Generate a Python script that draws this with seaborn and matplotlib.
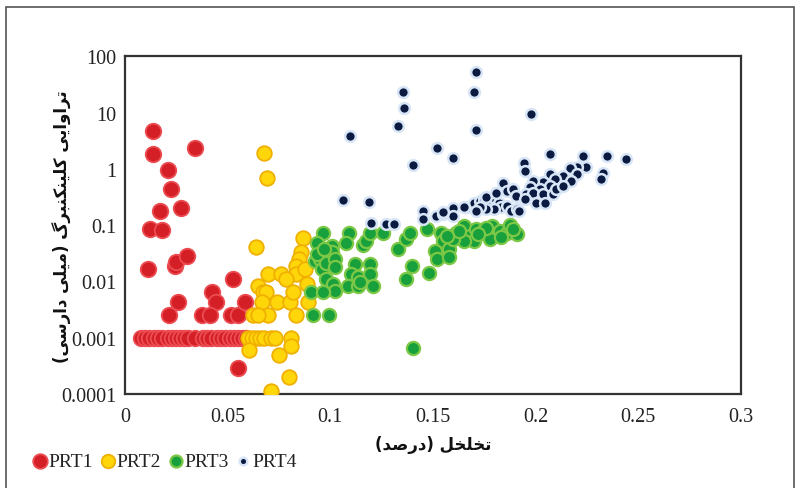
import numpy as np
import pandas as pd
import matplotlib
matplotlib.use("Agg")
import matplotlib.pyplot as plt
import seaborn as sns
from matplotlib.patches import Rectangle
from matplotlib.ticker import MultipleLocator, LogLocator, NullFormatter

# ---------------- data ----------------
prt1_x = [0.0135, 0.0138, 0.034, 0.021, 0.0224, 0.017, 0.0276, 0.0122, 0.0182, 0.0114,
          0.0243, 0.025, 0.0305, 0.0528, 0.0427, 0.0446, 0.026, 0.0214, 0.0378, 0.0414,
          0.0516, 0.0552, 0.0584, 0.0552,
          0.008, 0.010, 0.012, 0.014, 0.016, 0.018, 0.021, 0.023, 0.025, 0.027, 0.029,
          0.031, 0.034, 0.038, 0.040, 0.042, 0.045, 0.047, 0.049, 0.051, 0.053, 0.055,
          0.057, 0.059]
prt1_y = [4.7, 1.8, 2.3, 0.95, 0.43, 0.18, 0.2, 0.087, 0.083, 0.0165,
          0.019, 0.022, 0.028, 0.011, 0.0064, 0.0043, 0.0043, 0.0025, 0.0025, 0.0025,
          0.0025, 0.0025, 0.0043, 0.00029,
          0.001, 0.001, 0.001, 0.001, 0.001, 0.001, 0.001, 0.001, 0.001, 0.001, 0.001,
          0.001, 0.001, 0.001, 0.001, 0.001, 0.001, 0.001, 0.001, 0.001, 0.001, 0.001,
          0.001, 0.001]

prt2_x = [0.0679, 0.0693, 0.0641, 0.0868, 0.0857, 0.0847, 0.0836, 0.0836, 0.0877, 0.0885,
          0.0698, 0.0763, 0.0787, 0.065, 0.0674, 0.069, 0.0666, 0.0739, 0.0804, 0.0893,
          0.082, 0.0836, 0.0698, 0.0625, 0.065, 0.060, 0.062, 0.064, 0.066, 0.068,
          0.071, 0.073, 0.081, 0.081, 0.0604, 0.075, 0.080, 0.0714]
prt2_y = [1.95, 0.70, 0.041, 0.059, 0.033, 0.025, 0.019, 0.0135, 0.0165, 0.0089,
          0.0135, 0.0135, 0.011, 0.0084, 0.0064, 0.0064, 0.0043, 0.0043, 0.0043, 0.0043,
          0.0064, 0.0025, 0.0025, 0.0025, 0.0025, 0.001, 0.001, 0.001, 0.001, 0.001,
          0.001, 0.001, 0.001, 0.00072, 0.00061, 0.00049, 0.0002, 0.000115]

prt3_x = [0.0966, 0.109, 0.1076, 0.0934, 0.1007, 0.1007, 0.0925, 0.095, 0.0958, 0.0982,
          0.1023, 0.1023, 0.0982, 0.1015, 0.1023, 0.0909, 0.0966, 0.0917, 0.0995,
          0.112, 0.1193, 0.1104, 0.1136, 0.1088, 0.1136, 0.1193, 0.121, 0.1144,
          0.1158, 0.1177, 0.1193, 0.1258,
          0.133, 0.137, 0.139, 0.137, 0.14, 0.1404,
          0.147, 0.154, 0.155, 0.151, 0.152, 0.158, 0.158, 0.148,
          0.1615, 0.165, 0.168, 0.170, 0.171, 0.1745, 0.178, 0.1786, 0.1826, 0.186,
          0.1875, 0.191, 0.165, 0.16, 0.163, 0.176, 0.183, 0.189, 0.157, 0.172,
          0.0935, 0.097]
prt3_y = [0.072, 0.072, 0.048, 0.048, 0.042, 0.033, 0.023, 0.025, 0.0165, 0.021,
          0.025, 0.018, 0.011, 0.0089, 0.0068, 0.0065, 0.0065, 0.0025, 0.0025,
          0.0204, 0.0204, 0.0135, 0.012, 0.0084, 0.0084, 0.0135, 0.0084, 0.0097,
          0.044, 0.052, 0.073, 0.073,
          0.037, 0.056, 0.073, 0.011, 0.019, 0.00067,
          0.085, 0.073, 0.053, 0.035, 0.025, 0.037, 0.027, 0.0142,
          0.073, 0.097, 0.065, 0.053, 0.085, 0.079, 0.056, 0.097, 0.079, 0.073,
          0.1, 0.069, 0.053, 0.056, 0.08, 0.09, 0.062, 0.085, 0.065, 0.07,
          0.031, 0.038]

prt4_x = [0.1356, 0.136, 0.133, 0.1096, 0.152, 0.160, 0.1406, 0.1063, 0.119, 0.1197,
          0.1274, 0.131, 0.1453, 0.1453, 0.1518, 0.155, 0.16, 0.16, 0.166, 0.171,
          0.170, 0.171, 0.1976,
          0.207, 0.2346, 0.2443, 0.2232, 0.2248, 0.233, 0.232, 0.1945, 0.195, 0.22,
          0.2167, 0.2135, 0.22, 0.2175, 0.207, 0.2094, 0.2037, 0.1989, 0.1972, 0.207, 0.202,
          0.184, 0.181, 0.186, 0.189, 0.1907, 0.1955, 0.1989, 0.2037, 0.2086, 0.21,
          0.2135, 0.195, 0.2005, 0.2045,
          0.167, 0.17, 0.173, 0.175, 0.178, 0.179, 0.182, 0.183, 0.186, 0.188,
          0.191, 0.192, 0.18, 0.176, 0.173, 0.171, 0.155, 0.165, 0.176, 0.181]
prt4_y = [23, 12, 5.8, 3.8, 2.3, 1.57, 1.15, 0.28, 0.26, 0.11,
          0.105, 0.105, 0.175, 0.13, 0.144, 0.16, 0.2, 0.144, 0.21, 53,
          23, 4.9, 9.6,
          1.8, 1.7, 1.5, 1.7, 1.1, 0.86, 0.67, 1.25, 0.92, 1.1,
          1.03, 0.76, 0.8, 0.6, 0.8, 0.66, 0.58, 0.6, 0.47, 0.5, 0.44,
          0.57, 0.38, 0.41, 0.44, 0.33, 0.355, 0.38, 0.355, 0.355, 0.44,
          0.5, 0.29, 0.25, 0.25,
          0.206, 0.25, 0.27, 0.29, 0.235, 0.31, 0.25, 0.206, 0.22, 0.18,
          0.19, 0.18, 0.19, 0.19, 0.206, 0.18, 0.17, 0.21, 0.31, 0.37]

series_names = ["PRT1", "PRT2", "PRT3", "PRT4"]
x_ticks = [0, 0.05, 0.1, 0.15, 0.2, 0.25, 0.3]
x_tick_labels = ["0", "0.05", "0.1", "0.15", "0.2", "0.25", "0.3"]
y_ticks = [0.0001, 0.001, 0.01, 0.1, 1, 10, 100]
y_tick_labels = ["0.0001", "0.001", "0.01", "0.1", "1", "10", "100"]
x_label = "تخلخل (درصد)"
y_label = "تراوایی کلینکنبرگ (میلی دارسی)"

# ------------- simple Persian shaping (presentation forms, visual order) -------------
FORMS = {
    '\u0627': ('\uFE8D', '\uFE8E', None, None),
    '\u0628': ('\uFE8F', '\uFE90', '\uFE91', '\uFE92'),
    '\u062A': ('\uFE95', '\uFE96', '\uFE97', '\uFE98'),
    '\u062E': ('\uFEA5', '\uFEA6', '\uFEA7', '\uFEA8'),
    '\u062F': ('\uFEA9', '\uFEAA', None, None),
    '\u0631': ('\uFEAD', '\uFEAE', None, None),
    '\u0633': ('\uFEB1', '\uFEB2', '\uFEB3', '\uFEB4'),
    '\u0635': ('\uFEB9', '\uFEBA', '\uFEBB', '\uFEBC'),
    '\u0644': ('\uFEDD', '\uFEDE', '\uFEDF', '\uFEE0'),
    '\u0645': ('\uFEE1', '\uFEE2', '\uFEE3', '\uFEE4'),
    '\u0646': ('\uFEE5', '\uFEE6', '\uFEE7', '\uFEE8'),
    '\u0648': ('\uFEED', '\uFEEE', None, None),
    '\u06CC': ('\uFBFC', '\uFBFD', '\uFBFE', '\uFBFF'),
    '\u06A9': ('\uFB8E', '\uFB8F', '\uFB90', '\uFB91'),
    '\u06AF': ('\uFB92', '\uFB93', '\uFB94', '\uFB95'),
}


def shape_fa(s):
    out = []
    for i, c in enumerate(s):
        if c not in FORMS:
            out.append(c)
            continue
        prev = s[i - 1] if i > 0 else None
        nxt = s[i + 1] if i + 1 < len(s) else None
        jp = prev in FORMS and FORMS[prev][2] is not None
        jn = FORMS[c][2] is not None and nxt in FORMS
        iso, fin, ini, med = FORMS[c]
        out.append(med if (jp and jn) else fin if jp else ini if jn else iso)
    vis = ''.join(reversed(out))
    return vis.translate(str.maketrans('()', ')('))


# ---------------- plot ----------------
sns.set_style("white")
plt.rcParams['font.family'] = ['Liberation Serif', 'DejaVu Serif']

frames = []
for name, xs, ys in [("PRT1", prt1_x, prt1_y), ("PRT2", prt2_x, prt2_y),
                     ("PRT3", prt3_x, prt3_y), ("PRT4", prt4_x, prt4_y)]:
    frames.append(pd.DataFrame({"x": xs, "y": ys, "series": name}))
df = pd.concat(frames, ignore_index=True)

styles = {
    "PRT1": dict(color="#d41f27", edgecolor="#ec4d52", s=125, linewidth=1.3, leg=110),
    "PRT2": dict(color="#ffd60a", edgecolor="#f0b000", s=110, linewidth=1.3, leg=95),
    "PRT3": dict(color="#17a03b", edgecolor="#7cc846", s=90, linewidth=1.6, leg=75),
    "PRT4": dict(color="#0b1a40", edgecolor="#d7e5f6", s=60, linewidth=1.8, leg=30),
}

fig = plt.figure(figsize=(8.0, 4.89), dpi=100)
fig.patch.set_facecolor("white")
ax = fig.add_axes([0.156, 0.192, 0.770, 0.691])

for name in series_names:
    sub = df[df["series"] == name]
    st = styles[name]
    sns.scatterplot(data=sub, x="x", y="y", ax=ax, label=name, color=st["color"],
                    edgecolor=st["edgecolor"], s=st["s"], linewidth=st["linewidth"],
                    zorder=3)

ax.set_yscale("log")
ax.set_ylim(0.0001, 100)
ax.set_xlim(0, 0.3)
ax.set_xticks(x_ticks)
ax.set_xticklabels(x_tick_labels)
ax.set_yticks(y_ticks)
ax.set_yticklabels(y_tick_labels)
ax.xaxis.set_minor_locator(MultipleLocator(0.01))
ax.yaxis.set_minor_locator(LogLocator(base=10, subs=np.arange(2, 10)))
ax.yaxis.set_minor_formatter(NullFormatter())

ax.tick_params(axis="both", which="major", direction="inout", length=8, width=1.3,
               labelsize=14.5, colors="#222222", top=False, right=False)
ax.tick_params(axis="both", which="minor", direction="in", length=4, width=1.0,
               colors="#222222", top=False, right=False)
ax.tick_params(axis="x", which="major", pad=5)
ax.tick_params(axis="y", which="major", pad=2)

for sp in ax.spines.values():
    sp.set_color("#333333")
    sp.set_linewidth(1.6)

ax.set_xlabel(shape_fa(x_label), family=['DejaVu Sans'], fontweight='bold',
              fontsize=12, color="#111111")
ax.set_ylabel(shape_fa(y_label), family=['DejaVu Sans'], fontweight='bold',
              fontsize=12, color="#111111", va='center')
ax.xaxis.set_label_coords(0.5, -0.12)
ax.yaxis.set_label_coords(-0.102, 0.5)

handles, labels = ax.get_legend_handles_labels()
ax.get_legend().remove()
leg = fig.legend(handles, labels, loc="lower left", bbox_to_anchor=(0.022, 0.012),
                 ncol=4, frameon=False, fontsize=14, handletextpad=-0.1,
                 columnspacing=0.2, borderaxespad=0.2, handlelength=1.1)
for h, name in zip(leg.legend_handles, series_names):
    h.set_sizes([styles[name]["leg"]])
for t in leg.get_texts():
    t.set_color("#222222")

# outer frame
fig.patches.append(Rectangle((0.008, -0.01), 0.984, 0.993, transform=fig.transFigure,
                             fill=False, edgecolor="#555555", linewidth=1.2))

fig.savefig("out.png", dpi=100)
